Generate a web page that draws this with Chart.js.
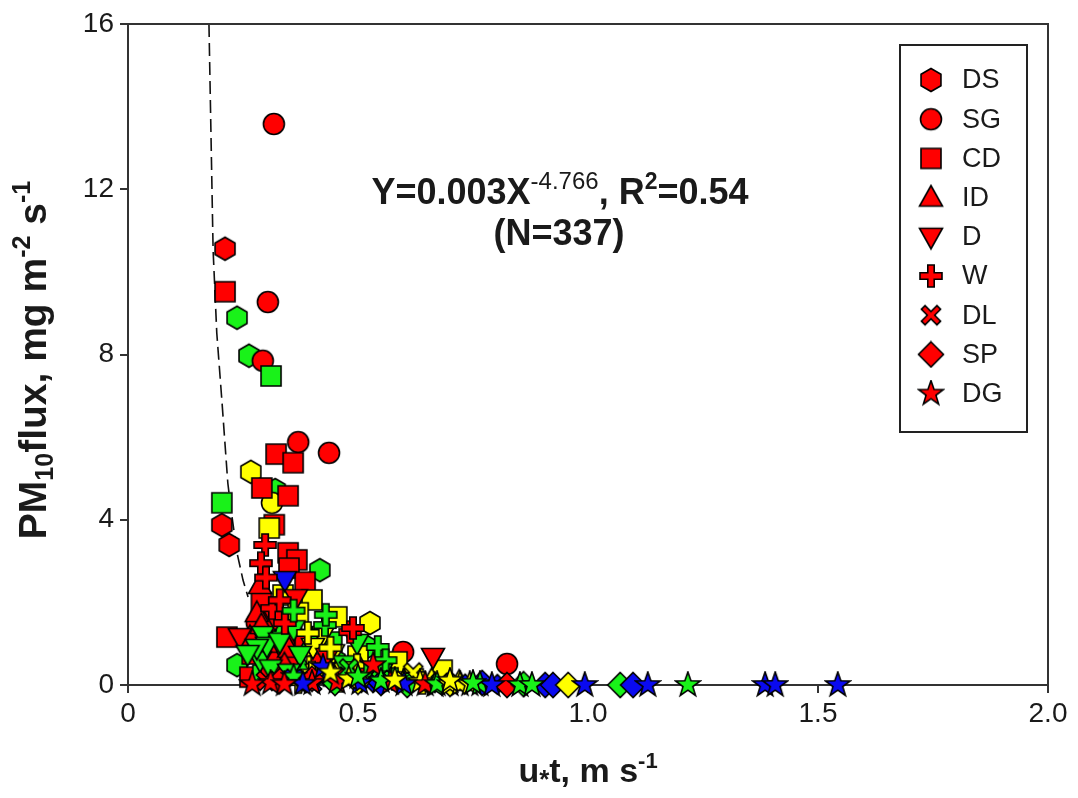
<!DOCTYPE html>
<html><head><meta charset="utf-8">
<script src="https://cdn.jsdelivr.net/npm/chart.js@4/dist/chart.umd.min.js"></script>
<style>html,body{margin:0;padding:0;background:#fff}#wrap{width:1078px;height:798px}</style>
</head><body><div id="wrap"><canvas id="c" width="1078" height="798"></canvas></div>
<script>
// ---- data: [u*t (m/s), PM10 flux (mg m-2 s-1), colour group] ----
const DS = [[0.211,10.56,'r'],[0.237,8.89,'g'],[0.263,7.97,'g'],[0.267,5.16,'y'],[0.32,4.72,'g'],[0.204,3.87,'r'],[0.22,3.39,'r'],[0.417,2.78,'g'],[0.526,1.50,'y'],[0.335,1.26,'g'],[0.52,0.92,'g'],[0.237,0.48,'g'],[0.30,0.85,'g'],[0.45,0.60,'g'],[0.36,0.45,'y']];
const SG = [[0.317,13.58,'r'],[0.304,9.27,'r'],[0.293,7.85,'r'],[0.370,5.88,'r'],[0.437,5.62,'r'],[0.313,4.41,'y'],[0.357,1.26,'g'],[0.598,0.80,'r'],[0.824,0.51,'r'],[0.39,0.95,'y'],[0.31,0.55,'g'],[0.45,0.35,'r'],[0.28,1.50,'r']];
const CD = [[0.211,9.52,'r'],[0.311,7.48,'g'],[0.322,5.59,'r'],[0.359,5.38,'r'],[0.291,4.77,'r'],[0.348,4.58,'r'],[0.204,4.41,'g'],[0.318,3.88,'r'],[0.307,3.80,'y'],[0.348,3.20,'r'],[0.367,3.03,'r'],[0.35,2.83,'r'],[0.385,2.49,'r'],[0.337,2.18,'y'],[0.40,2.06,'y'],[0.454,1.65,'y'],[0.215,1.16,'r'],[0.443,1.04,'g'],[0.585,0.56,'y'],[0.683,0.36,'y'],[0.265,0.19,'r'],[0.293,0.24,'g'],[0.33,0.78,'r'],[0.352,0.60,'r'],[0.30,1.55,'r'],[0.29,2.0,'r'],[0.47,0.32,'y'],[0.41,0.45,'y'],[0.55,0.22,'y'],[0.62,0.15,'y'],[0.31,0.38,'r'],[0.42,0.52,'r'],[0.37,1.75,'y'],[0.34,0.95,'r'],[0.50,0.70,'y'],[0.27,0.75,'r'],[0.385,1.10,'r']];
const ID = [[0.287,2.42,'r'],[0.28,1.74,'r'],[0.265,1.16,'r'],[0.315,0.68,'r'],[0.324,0.29,'g'],[0.30,1.0,'r'],[0.35,0.88,'r'],[0.38,0.40,'g'],[0.45,0.18,'y'],[0.60,0.10,'y'],[0.66,0.12,'y'],[0.72,0.08,'y'],[0.40,1.10,'g'],[0.50,0.50,'r'],[0.29,1.45,'r'],[0.56,0.35,'g'],[0.34,0.50,'r'],[0.42,0.25,'b']];
const D  = [[0.341,2.54,'b'],[0.365,2.10,'r'],[0.243,1.16,'r'],[0.293,1.21,'g'],[0.424,1.21,'y'],[0.498,1.02,'g'],[0.402,0.92,'y'],[0.374,0.73,'g'],[0.446,0.77,'y'],[0.663,0.68,'r'],[0.287,0.60,'g'],[0.433,0.68,'r'],[0.302,0.95,'g'],[0.31,0.40,'g'],[0.35,0.30,'g'],[0.28,0.90,'g'],[0.33,1.05,'g'],[0.47,0.50,'g'],[0.38,0.15,'g'],[0.32,1.60,'r'],[0.55,0.30,'g'],[0.26,0.75,'g'],[0.36,1.35,'g'],[0.41,0.30,'y']];
const W  = [[0.298,3.39,'r'],[0.289,2.95,'r'],[0.313,1.86,'r'],[0.341,1.50,'r'],[0.428,1.45,'g'],[0.391,1.26,'y'],[0.483,1.28,'r'],[0.489,1.38,'r'],[0.543,0.92,'g'],[0.498,0.48,'y'],[0.37,0.07,'y'],[0.43,1.70,'g'],[0.40,0.30,'y'],[0.52,0.25,'g'],[0.46,0.10,'y'],[0.58,0.15,'g'],[0.64,0.05,'y'],[0.33,2.05,'r'],[0.36,1.80,'g'],[0.56,0.60,'g'],[0.30,2.60,'r'],[0.44,0.90,'y']];
const DL = [[0.36,0.15,'b'],[0.52,0.05,'b'],[0.72,0.03,'b'],[0.79,0.02,'b'],[0.45,0.20,'r'],[0.60,0.10,'y'],[0.55,0.12,'g'],[0.68,0.05,'g'],[0.30,0.10,'r'],[0.40,0.05,'b'],[0.62,0.30,'y'],[0.48,0.40,'g']];
const SP = [[0.824,0.0,'r'],[0.607,0.0,'g'],[0.907,0.0,'b'],[0.924,0.0,'b'],[0.957,0.0,'y'],[1.07,0.0,'g'],[1.098,0.0,'b'],[0.33,0.10,'r'],[0.45,0.05,'g'],[0.50,0.08,'y'],[0.70,0.03,'y'],[0.55,0.05,'b'],[0.77,0.05,'b'],[0.40,0.15,'r'],[0.86,0.02,'g']];
const DG = [[0.31,0.05,'r'],[0.40,0.05,'r'],[0.424,0.44,'b'],[0.454,0.07,'r'],[0.504,0.05,'b'],[0.533,0.48,'r'],[0.57,0.05,'r'],[0.635,0.07,'y'],[0.667,0.0,'g'],[0.646,0.02,'r'],[0.672,0.02,'g'],[0.70,0.02,'y'],[0.722,0.02,'y'],[0.743,0.02,'y'],[0.765,0.02,'g'],[0.791,0.0,'b'],[0.852,0.0,'g'],[0.878,0.0,'g'],[0.993,0.0,'b'],[1.13,0.0,'b'],[1.217,0.0,'g'],[1.385,0.0,'b'],[1.407,0.0,'b'],[1.543,0.0,'b'],[0.36,0.20,'g'],[0.48,0.15,'y'],[0.55,0.10,'g'],[0.60,0.02,'b'],[0.38,0.03,'b'],[0.58,0.12,'y'],[0.70,0.10,'y'],[0.75,0.05,'g'],[0.34,0.02,'r'],[0.27,0.02,'r'],[0.44,0.30,'y'],[0.50,0.20,'g']];
// fitted power curve
const FIT_X = [0.176,0.185,0.193,0.204,0.217,0.224,0.237,0.250,0.261];
const FIT_Y = [16.0,10.53,8.52,6.90,4.89,4.24,3.20,2.54,2.13];
const SERIES_NAMES = ['DS','SG','CD','ID','D','W','DL','SP','DG'];
const X_TICKS = [0,0.5,1.0,1.5,2.0];
const Y_TICKS = [0,4,8,12,16];

const COLORS = {r:'#ff0000', g:'#19f219', y:'#ffff00', b:'#0a0af0'};
const SHAPES = {DS:'hex',SG:'circle',CD:'square',ID:'tri',D:'itri',W:'plus',DL:'x',SP:'diamond',DG:'star'};

function makeIcon(shape, fill){
  const s = 28, c = document.createElement('canvas'); c.width = c.height = s;
  const g = c.getContext('2d'); g.translate(s/2, s/2);
  g.fillStyle = fill; g.strokeStyle = '#000'; g.lineWidth = 1.6; g.lineJoin = 'miter';
  g.beginPath();
  const poly = pts => { pts.forEach((p,i)=> i? g.lineTo(p[0],p[1]) : g.moveTo(p[0],p[1])); g.closePath(); };
  if (shape==='hex'){ const r=11.5; const p=[]; for(let i=0;i<6;i++){const a=Math.PI/6+i*Math.PI/3; p.push([r*Math.cos(a), r*Math.sin(a)]);} poly(p); }
  else if (shape==='circle'){ g.arc(0,0,10.5,0,Math.PI*2); }
  else if (shape==='square'){ g.rect(-10,-10,20,20); }
  else if (shape==='tri'){ poly([[0,-12],[11.5,8.5],[-11.5,8.5]]); }
  else if (shape==='itri'){ poly([[-11.5,-8.5],[11.5,-8.5],[0,12]]); }
  else if (shape==='plus'){ const a=3.2,L=11; poly([[-a,-L],[a,-L],[a,-a],[L,-a],[L,a],[a,a],[a,L],[-a,L],[-a,a],[-L,a],[-L,-a],[-a,-a]]); }
  else if (shape==='x'){ const a=2.6,L=11; g.rotate(Math.PI/4); poly([[-a,-L],[a,-L],[a,-a],[L,-a],[L,a],[a,a],[a,L],[-a,L],[-a,a],[-L,a],[-L,-a],[-a,-a]]); }
  else if (shape==='diamond'){ poly([[0,-12.5],[12.5,0],[0,12.5],[-12.5,0]]); }
  else if (shape==='star'){ const p=[]; for(let i=0;i<10;i++){const r=i%2?5.2:13; const a=-Math.PI/2+i*Math.PI/5; p.push([r*Math.cos(a), r*Math.sin(a)]);} poly(p); }
  g.fill(); g.stroke();
  return c;
}
const ICONS = {};
Object.values(SHAPES).forEach(sh => { ICONS[sh] = {}; Object.keys(COLORS).forEach(k => ICONS[sh][k] = makeIcon(sh, COLORS[k])); });

const SERIES = {DS, SG, CD, ID, D, W, DL, SP, DG};
const FONT = '"Liberation Sans", Arial, sans-serif';
const INK = '#1a1a1a';

const datasets = SERIES_NAMES.map((name, i) => ({
  type: 'scatter', label: name,
  data: SERIES[name].map(p => ({x:p[0], y:p[1], c:p[2]})),
  pointStyle: ctx => ICONS[SHAPES[name]][(ctx.raw && ctx.raw.c) || 'r'],
  pointRadius: 11, clip: false, order: 9 - i
}));
datasets.push({
  type: 'line', label: 'fit', data: FIT_X.map((x,i)=>({x, y:FIT_Y[i]})),
  borderColor: '#111', borderWidth: 1.6, borderDash: [13,6], pointRadius: 0, fill: false, order: 20, clip: false, tension: 0
});

function richText(ctx, pieces, cx, cy, align){
  let total = 0;
  pieces.forEach(p => { ctx.font = p.f; p.w = ctx.measureText(p.t).width; total += p.w; });
  let x = align === 'center' ? cx - total/2 : cx;
  ctx.textBaseline = 'alphabetic'; ctx.textAlign = 'left';
  pieces.forEach(p => { ctx.font = p.f; ctx.fillText(p.t, x, cy + (p.dy||0)); x += p.w; });
}

const decor = {
  id: 'decor',
  afterDraw(chart){
    const ctx = chart.ctx, a = chart.chartArea;
    ctx.save();
    // frame top & right
    ctx.strokeStyle = '#333'; ctx.lineWidth = 2;
    ctx.beginPath(); ctx.moveTo(a.left, a.top); ctx.lineTo(a.right, a.top); ctx.lineTo(a.right, a.bottom); ctx.stroke();
    ctx.fillStyle = INK;
    // equation annotation
    const B = 'bold 36px ' + FONT, S = 'bold 23px ' + FONT, SN = '24px ' + FONT;
    richText(ctx, [{t:'Y=0.003X', f:B},{t:'-4.766', f:SN, dy:-15},{t:', R', f:B},{t:'2', f:S, dy:-15},{t:'=0.54', f:B}], 560, 204, 'center');
    richText(ctx, [{t:'(N=337)', f:B}], 559, 245, 'center');
    // axis titles
    const T = 'bold 34px ' + FONT, TS = 'bold 22px ' + FONT;
    richText(ctx, [{t:'u', f:T},{t:'*', f:'bold 26px '+FONT, dy:6},{t:'t, m s', f:T},{t:'-1', f:TS, dy:-14}], 588, 782, 'center');
    const TY = 'bold 39px ' + FONT, TYS = 'bold 25px ' + FONT;
    ctx.save(); ctx.translate(46, 360); ctx.rotate(-Math.PI/2);
    richText(ctx, [{t:'PM', f:TY},{t:'10', f:TYS, dy:7},{t:'flux, mg m', f:TY},{t:'-2', f:TYS, dy:-16},{t:' s', f:TY},{t:'-1', f:TYS, dy:-16}], 0, 0, 'center');
    ctx.restore();
    // legend box
    ctx.strokeStyle = '#222'; ctx.lineWidth = 2;
    ctx.strokeRect(900, 45, 127, 387);
    ctx.font = '27px ' + FONT; ctx.textBaseline = 'middle'; ctx.textAlign = 'left'; ctx.fillStyle = INK;
    SERIES_NAMES.forEach((n, i) => {
      const y = 80 + i * 39.2;
      const ic = ICONS[SHAPES[n]].r;
      ctx.drawImage(ic, 931 - ic.width/2, y - ic.height/2);
      ctx.fillText(n, 962, y + 1);
    });
    ctx.restore();
  }
};

new Chart(document.getElementById('c'), {
  data: { datasets },
  options: {
    responsive: false, animation: false, events: [],
    layout: { padding: { top: 24, right: 30, left: 0, bottom: 0 } },
    plugins: { legend: { display: false }, tooltip: { enabled: false } },
    scales: {
      x: {
        type: 'linear', min: 0, max: 2,
        afterBuildTicks: s => { s.ticks = X_TICKS.map(v => ({value: v})); },
        afterFit: s => { s.height = 113; },
        ticks: { callback: v => v === 0 ? '0' : v.toFixed(1), color: INK, font: { family: FONT, size: 28 }, padding: 4, maxRotation: 0 },
        grid: { drawOnChartArea: false, drawTicks: true, tickLength: 8, color: '#333', lineWidth: 2 },
        border: { display: true, color: '#333', width: 2 }
      },
      y: {
        type: 'linear', min: 0, max: 16,
        afterBuildTicks: s => { s.ticks = Y_TICKS.map(v => ({value: v})); },
        afterFit: s => { s.width = 128; },
        ticks: { color: INK, font: { family: FONT, size: 28 }, padding: 6 },
        grid: { drawOnChartArea: false, drawTicks: true, tickLength: 8, color: '#333', lineWidth: 2 },
        border: { display: true, color: '#333', width: 2 }
      }
    }
  },
  plugins: [decor]
});
</script></body></html>
